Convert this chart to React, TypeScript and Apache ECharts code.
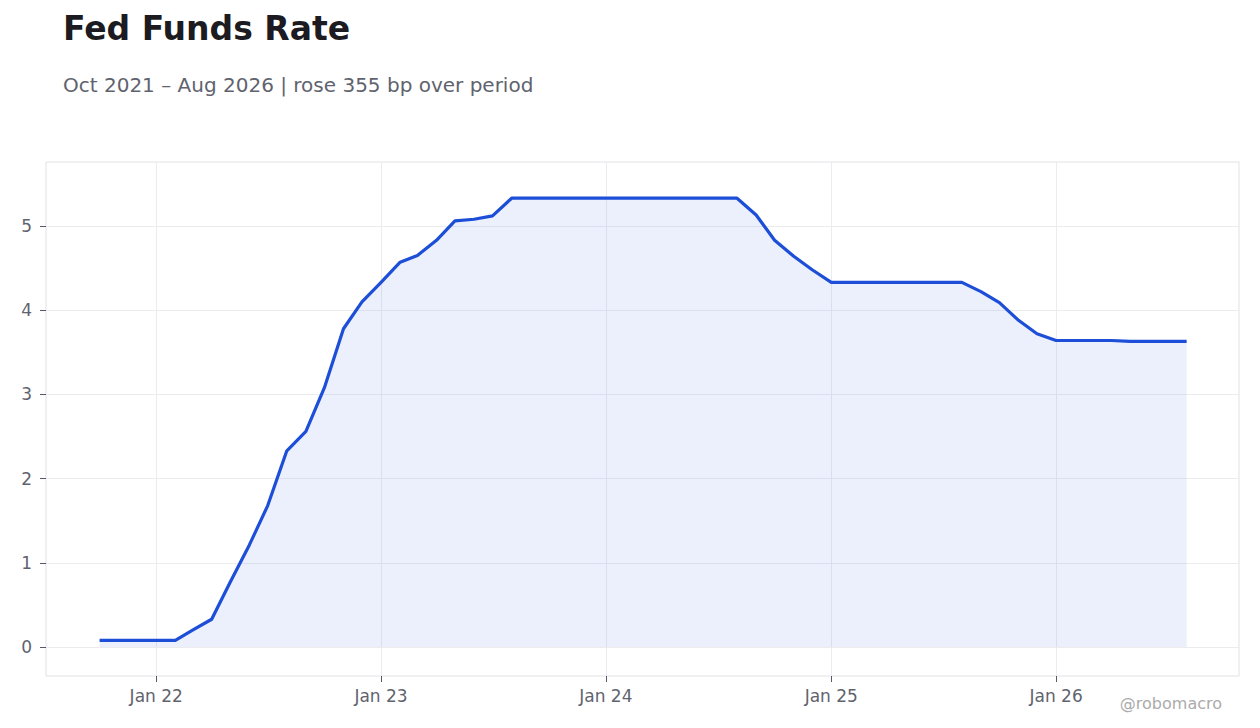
import { useEffect, useRef } from "react";
import * as echarts from "echarts";

const BLUE = "#1d4ed8";
const INK = "#1b1b21";
const MUTE = "#5f636e";
const GRID = "#ececef";
const BORDER = "#e2e2e6";
const FONT = "DejaVu Sans, sans-serif";

// monthly observations, first day of each month
const months = [
  "2021-10-01", "2021-11-01", "2021-12-01",
  "2022-01-01", "2022-02-01", "2022-03-01", "2022-04-01", "2022-05-01", "2022-06-01",
  "2022-07-01", "2022-08-01", "2022-09-01", "2022-10-01", "2022-11-01", "2022-12-01",
  "2023-01-01", "2023-02-01", "2023-03-01", "2023-04-01", "2023-05-01", "2023-06-01",
  "2023-07-01", "2023-08-01", "2023-09-01", "2023-10-01", "2023-11-01", "2023-12-01",
  "2024-01-01", "2024-02-01", "2024-03-01", "2024-04-01", "2024-05-01", "2024-06-01",
  "2024-07-01", "2024-08-01", "2024-09-01", "2024-10-01", "2024-11-01", "2024-12-01",
  "2025-01-01", "2025-02-01", "2025-03-01", "2025-04-01", "2025-05-01", "2025-06-01",
  "2025-07-01", "2025-08-01", "2025-09-01", "2025-10-01", "2025-11-01", "2025-12-01",
  "2026-01-01", "2026-02-01", "2026-03-01", "2026-04-01", "2026-05-01", "2026-06-01",
  "2026-07-01", "2026-08-01",
];

// effective fed funds rate, %
const rates = [
  0.08, 0.08, 0.08,
  0.08, 0.08, 0.20, 0.33, 0.77, 1.21,
  1.68, 2.33, 2.56, 3.08, 3.78, 4.10,
  4.33, 4.57, 4.65, 4.83, 5.06, 5.08,
  5.12, 5.33, 5.33, 5.33, 5.33, 5.33,
  5.33, 5.33, 5.33, 5.33, 5.33, 5.33,
  5.33, 5.33, 5.13, 4.83, 4.64, 4.48,
  4.33, 4.33, 4.33, 4.33, 4.33, 4.33,
  4.33, 4.33, 4.22, 4.09, 3.88, 3.72,
  3.64, 3.64, 3.64, 3.64, 3.63, 3.63,
  3.63, 3.63,
];

const xTicks = ["2022-01-01", "2023-01-01", "2024-01-01", "2025-01-01", "2026-01-01"];
const xRange = ["2021-07-06", "2026-10-25"];
const yTicks = [0, 1, 2, 3, 4, 5];

const TITLE = "Fed Funds Rate";
const SUBTITLE = "Oct 2021 – Aug 2026 | rose 355 bp over period";
const CREDIT = "@robomacro";

const ts = (d: string) => Date.UTC(+d.slice(0, 4), +d.slice(5, 7) - 1, +d.slice(8, 10));

function buildOption() {
  const xTickValues = xTicks.map(ts);
  return {
    animation: false,
    backgroundColor: "#ffffff",
    textStyle: { fontFamily: FONT },
    grid: {
      left: 46,
      right: 21,
      top: 162,
      bottom: 52,
      show: true,
      borderColor: BORDER,
      borderWidth: 1,
      backgroundColor: "transparent",
    },
    graphic: [
      {
        type: "text",
        left: 63,
        top: 12,
        style: { text: TITLE, fill: INK, font: `bold 33px ${FONT}` },
      },
      {
        type: "text",
        left: 63,
        top: 75,
        style: { text: SUBTITLE, fill: MUTE, font: `20px ${FONT}` },
      },
      {
        type: "text",
        right: 38,
        top: 695,
        style: { text: CREDIT, fill: "#ababab", font: `16px ${FONT}` },
      },
    ],
    xAxis: {
      type: "value",
      min: ts(xRange[0]),
      max: ts(xRange[1]),
      axisLine: { show: false, onZero: false },
      axisTick: {
        show: true,
        inside: false,
        length: 6,
        lineStyle: { color: "#55596a" },
        customValues: xTickValues,
      },
      axisLabel: {
        color: MUTE,
        fontSize: 17,
        fontFamily: FONT,
        margin: 11,
        customValues: xTickValues,
        formatter: (v: number) => "Jan " + String(new Date(v).getUTCFullYear()).slice(2),
      },
      splitLine: { show: true, lineStyle: { color: GRID, width: 1 } },
    },
    yAxis: {
      type: "value",
      min: -0.344,
      max: 5.76,
      axisLine: { show: false, onZero: false },
      axisTick: {
        show: true,
        inside: false,
        length: 6,
        lineStyle: { color: "#55596a" },
        customValues: yTicks,
      },
      axisLabel: {
        color: MUTE,
        fontSize: 17,
        fontFamily: FONT,
        margin: 14,
        customValues: yTicks,
        formatter: (v: number) => String(v),
      },
      splitLine: { show: true, lineStyle: { color: GRID, width: 1 } },
    },
    series: [
      {
        type: "line",
        data: months.map((m, i) => [ts(m), rates[i]]),
        showSymbol: false,
        symbol: "none",
        lineStyle: { color: BLUE, width: 3.2, join: "round" },
        itemStyle: { color: BLUE },
        areaStyle: { color: "rgba(29,78,216,0.12)", origin: 0 },
      },
    ],
  };
}

export default function App() {
  const ref = useRef<HTMLDivElement>(null);

  useEffect(() => {
    if (!ref.current) return;
    document.body.style.margin = "0";
    const chart = echarts.init(ref.current, null, { renderer: "svg" });
    chart.setOption(buildOption());
    return () => chart.dispose();
  }, []);

  return (
    <div
      ref={ref}
      style={{ position: "absolute", left: 0, top: 0, width: 1260, height: 728, background: "#fff" }}
    />
  );
}
